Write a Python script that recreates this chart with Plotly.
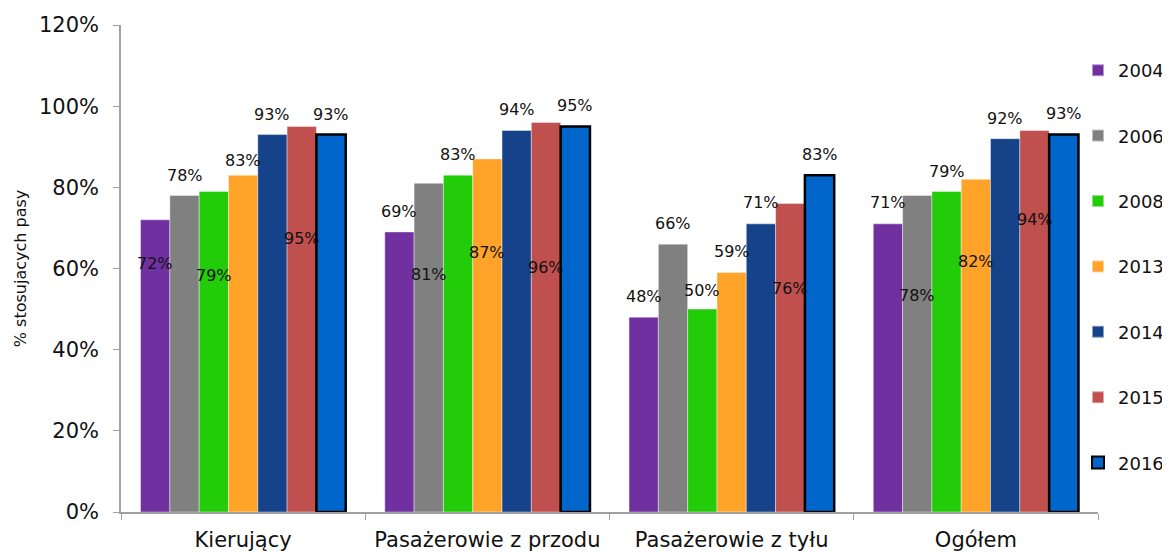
import plotly.graph_objects as go

categories = ["Kierujący", "Pasażerowie z przodu", "Pasażerowie z tyłu", "Ogółem"]
years = ["2004", "2006", "2008", "2013", "2014", "2015", "2016"]

v2004 = [72, 69, 48, 71]
v2006 = [78, 81, 66, 78]
v2008 = [79, 83, 50, 79]
v2013 = [83, 87, 59, 82]
v2014 = [93, 94, 71, 92]
v2015 = [95, 96, 76, 94]
v2016 = [93, 95, 83, 93]
series = [v2004, v2006, v2008, v2013, v2014, v2015, v2016]

# vertical positions (in axis units) of the value labels, as placed in the original
lab2004 = [61.2, 74.1, 53.2, 76.2]
lab2006 = [83.0, 58.5, 71.1, 53.3]
lab2008 = [58.3, 88.1, 54.7, 84.0]
lab2013 = [86.7, 63.9, 64.1, 61.7]
lab2014 = [98.0, 99.1, 76.2, 97.0]
lab2015 = [67.3, 60.2, 55.0, 72.1]
lab2016 = [98.0, 100.1, 88.1, 98.2]
label_pos = [lab2004, lab2006, lab2008, lab2013, lab2014, lab2015, lab2016]

colors = ["#7030A0", "#808080", "#22CC08", "#FFA428", "#16428A", "#C0504D", "#0066CC"]

W, H = 1170, 553
ML, MR, MT, MB = 113, 80, 17, 49
BARGAP = 0.16
FONT = "DejaVu Sans"

fig = go.Figure()
for i, (yr, vals, col) in enumerate(zip(years, series, colors)):
    is_last = yr == "2016"
    fig.add_trace(go.Bar(
        name=yr, x=categories, y=vals,
        marker=dict(color=col,
                    line=dict(color="#000000" if is_last else "rgba(255,255,255,0.5)",
                              width=2.5 if is_last else 0.8)),
        legendgroup=yr,
        hoverinfo="x+y+name",
    ))

plot_w = W - ML - MR
plot_h = H - MT - MB
cat_w = plot_w / len(categories)
bar_w = cat_w * (1 - BARGAP) / len(years)
annotations = []
for i, (vals, pos) in enumerate(zip(series, label_pos)):
    shift = (i - (len(years) - 1) / 2) * bar_w
    for c, v, p in zip(categories, vals, pos):
        annotations.append(dict(
            x=c, y=p, xref="x", yref="y", text=f"{v}%", showarrow=False,
            xshift=shift, font=dict(family=FONT, size=16, color="#111111"),
        ))

LEG_LEFT, LEG_TOP = 1070, 44
fig.update_layout(
    width=W, height=H,
    margin=dict(l=ML, r=MR, t=MT, b=MB, autoexpand=False),
    barmode="group", bargap=BARGAP, bargroupgap=0,
    paper_bgcolor="white", plot_bgcolor="white",
    font=dict(family=FONT, color="#111111"),
    showlegend=True,
    legend=dict(
        x=(LEG_LEFT - ML) / plot_w, xanchor="left", xref="paper",
        y=(H - MB - LEG_TOP) / plot_h, yanchor="top", yref="paper",
        font=dict(family=FONT, size=18, color="#111111"),
        tracegroupgap=39, traceorder="grouped", itemsizing="constant",
        bgcolor="rgba(0,0,0,0)", maxheight=540,
    ),
    annotations=annotations,
)
fig.update_xaxes(
    type="category", tickson="boundaries", ticks="outside", ticklen=6,
    tickcolor="#A0A0A0", showline=True, linecolor="#A0A0A0", linewidth=1.5,
    showgrid=False, tickfont=dict(family=FONT, size=21, color="#111111"),
    ticklabelstandoff=8, automargin=False,
)
fig.update_yaxes(
    range=[0, 120], dtick=20, ticksuffix="%", ticks="outside", ticklen=6,
    tickcolor="#A0A0A0", showline=True, linecolor="#A0A0A0", linewidth=1.5,
    showgrid=False, zeroline=False,
    tickfont=dict(family=FONT, size=21, color="#111111"),
    ticklabelstandoff=10,
    title=dict(text="% stosujacych pasy", font=dict(family=FONT, size=16, color="#111111"), standoff=8),
    automargin=False,
)

fig.write_html("out.html")
